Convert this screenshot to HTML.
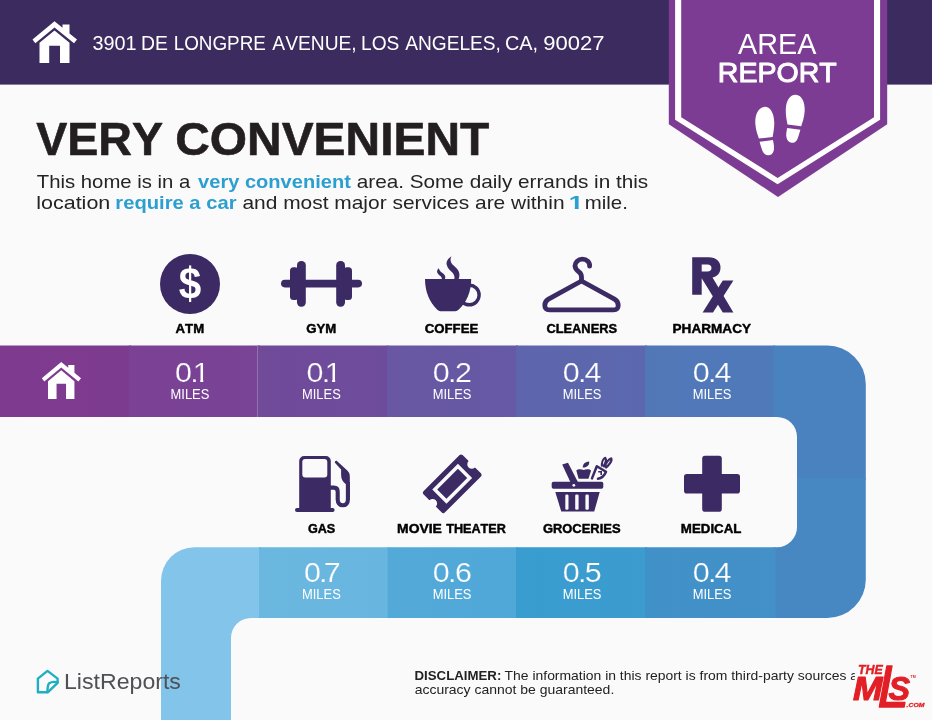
<!DOCTYPE html>
<html lang="en">
<head>
<meta charset="utf-8">
<title>Area Report - 3901 De Longpre Avenue</title>
<style>
html,body{margin:0;padding:0;background:#fafafa;}
body{width:932px;height:720px;overflow:hidden;font-family:"Liberation Sans",sans-serif;}
#page{position:relative;width:932px;height:720px;overflow:hidden;background:#fafafa;}
#page svg{position:absolute;left:0;top:0;display:block;}
text{font-family:"Liberation Sans",sans-serif;font-kerning:none;white-space:pre;}
.ic{fill:#3b2a63;}
</style>
</head>
<body>
<div id="page">
<svg width="932" height="720" viewBox="0 0 932 720">
<defs>
<clipPath id="trk"><path d="M0 345.6H827.3A38.5 38.5 0 0 1 865.8 384.1V579.5A38.5 38.5 0 0 1 827.3 618H251A20 20 0 0 0 231 638V720H161V580.7A33.5 33.5 0 0 1 194.5 547.2H777A20 20 0 0 0 797 527.2V437A20 20 0 0 0 777 417H0Z"/></clipPath>
<g id="home">
<path d="M54.5 21.2 62.5 27.7V24.5H69.5V33.4L77 39.5 74 43.3 54.5 27.5 35.3 43.3 32.5 39.4Z"/>
<path d="M54.5 30.6 69.5 42.8V63H60V45.8H49.2V63H39.5V42.8Z"/>
</g>
</defs>
<g id="header">
<rect x="0" y="0" width="932" height="84.6" fill="#3b2b5e"/>
<use href="#home" fill="#fff"/>
<text fill="#fff"><tspan x="92.54" y="50.25" textLength="44.12" lengthAdjust="spacingAndGlyphs" font-size="20.3">3901</tspan> <tspan x="141.11" y="50.25" textLength="26.92" lengthAdjust="spacingAndGlyphs" font-size="20.3">DE</tspan> <tspan x="173.65" y="50.25" textLength="92.26" lengthAdjust="spacingAndGlyphs" font-size="20.3">LONGPRE</tspan> <tspan x="272.36" y="50.25" textLength="84.36" lengthAdjust="spacingAndGlyphs" font-size="20.3">AVENUE,</tspan> <tspan x="361.03" y="50.25" textLength="38.35" lengthAdjust="spacingAndGlyphs" font-size="20.3">LOS</tspan> <tspan x="405.16" y="50.25" textLength="95.76" lengthAdjust="spacingAndGlyphs" font-size="20.3">ANGELES,</tspan> <tspan x="504.89" y="50.25" textLength="33.20" lengthAdjust="spacingAndGlyphs" font-size="20.3">CA,</tspan> <tspan x="543.27" y="50.25" textLength="61.24" lengthAdjust="spacingAndGlyphs" font-size="20.3">90027</tspan></text>
</g>
<g id="badge">
<path d="M668.8 0H887.2V124.2L778 197 668.8 124.2Z" fill="#7d3c93"/>
<path d="M675.1 0V119.7L777.6 184.3 880.1 119.7V0H874V117.2L777.6 177.9 681.2 117.2V0Z" fill="#fff"/>
<text fill="#fff" stroke-linejoin="round"><tspan x="738.04" y="53.80" textLength="78.41" lengthAdjust="spacingAndGlyphs" font-size="28.6">AREA</tspan> <tspan x="717.86" y="81.60" textLength="118.79" lengthAdjust="spacingAndGlyphs" font-size="28.47" fill="#fff" stroke="#fff" stroke-width="1.0">REPORT</tspan></text>
<g fill="#fff">
<path d="M764.2 106.9c5.6-.5 9.6 5.5 10 14.5.3 6.300-.8 11.300-1.600 15.500l-13.700 1.700c-1.400-3.900-3.300-9.200-3.600-15.300-.4-9 3.300-15.900 8.900-16.400z"/>
<path d="M759.600 141.800 772.900 140.100c.9 4.200 1.600 7.700.8 10.700-.9 3.100-3 4.600-5.500 4.500-2.600 0-4.700-1.700-6-5-1.200-2.800-1.800-5.600-2.600-8.500z"/>
<path d="M795.800 94.800c5.600.3 9.300 6.900 8.900 15.900-.3 6.400-2.200 11.500-3.500 15.600l-13.700-1.900c-.8-4.200-1.900-8.900-1.700-15.200.4-9 4.400-14.700 10-14.400z"/>
<path d="M787.200 127.900 800.400 129.800c-.8 3-1.600 5.700-2.700 8.600-1.300 3.300-3.400 4.600-6 4.400-2.500-.2-4.500-2-5.200-5.200-.600-2.700-.100-5.900.7-9.700z"/>
</g>
</g>
<text id="title" fill="#231f20" stroke="#231f20" stroke-width="0.6" stroke-linejoin="round"><tspan x="36.18" y="154.50" textLength="126.97" lengthAdjust="spacingAndGlyphs" font-size="47.04" font-weight="700">VERY</tspan> <tspan x="175.24" y="154.50" textLength="314.03" lengthAdjust="spacingAndGlyphs" font-size="47.04" font-weight="700">CONVENIENT</tspan></text>
<clipPath id="cb1"><path clip-rule="evenodd" d="M0 160H932V230H0ZM567.79 206.70H574.77V209.80H567.79ZM578.65 206.70H583.50V209.80H578.65Z"/></clipPath>
<g id="intro" clip-path="url(#cb1)"><text fill="#262324"><tspan x="36.84" y="187.85" textLength="153.46" lengthAdjust="spacingAndGlyphs" font-size="18.6">This home is in a</tspan> <tspan x="198.12" y="187.85" textLength="152.72" lengthAdjust="spacingAndGlyphs" font-size="18.6" font-weight="700" fill="#2c9fd1">very convenient</tspan> <tspan x="356.72" y="187.85" textLength="291.53" lengthAdjust="spacingAndGlyphs" font-size="18.6">area. Some daily errands in this</tspan> <tspan x="36.25" y="208.80" textLength="74.04" lengthAdjust="spacingAndGlyphs" font-size="18.6">location</tspan> <tspan x="115.37" y="208.80" textLength="121.14" lengthAdjust="spacingAndGlyphs" font-size="18.6" font-weight="700" fill="#2c9fd1">require a car</tspan> <tspan x="242.41" y="208.80" textLength="322.15" lengthAdjust="spacingAndGlyphs" font-size="18.6">and most major services are within</tspan> <tspan x="568.79" y="208.8" textLength="14.72" lengthAdjust="spacingAndGlyphs" font-size="18.6" font-weight="700" fill="#2c9fd1">1</tspan> <tspan x="584.74" y="208.80" textLength="43.12" lengthAdjust="spacingAndGlyphs" font-size="18.6">mile.</tspan></text></g>
<g id="track" clip-path="url(#trk)">
<linearGradient id="g0" x1="0" x2="1" y1="0" y2="0"><stop offset="0" stop-color="#7e3a8f"/><stop offset="1" stop-color="#7d3b90"/></linearGradient><rect x="0" y="345" width="131" height="73" fill="url(#g0)"/>
<linearGradient id="g1" x1="0" x2="1" y1="0" y2="0"><stop offset="0" stop-color="#7b4195"/><stop offset="1" stop-color="#794396"/></linearGradient><rect x="128.8" y="345" width="131" height="73" fill="url(#g1)"/>
<linearGradient id="g2" x1="0" x2="1" y1="0" y2="0"><stop offset="0" stop-color="#714a9a"/><stop offset="1" stop-color="#6e4c9c"/></linearGradient><rect x="257.6" y="345" width="131" height="73" fill="url(#g2)"/>
<linearGradient id="g3" x1="0" x2="1" y1="0" y2="0"><stop offset="0" stop-color="#6957a3"/><stop offset="1" stop-color="#6659a5"/></linearGradient><rect x="387" y="345" width="131" height="73" fill="url(#g3)"/>
<linearGradient id="g4" x1="0" x2="1" y1="0" y2="0"><stop offset="0" stop-color="#5e65ac"/><stop offset="1" stop-color="#5b68af"/></linearGradient><rect x="516" y="345" width="131" height="73" fill="url(#g4)"/>
<linearGradient id="g5" x1="0" x2="1" y1="0" y2="0"><stop offset="0" stop-color="#5277b7"/><stop offset="1" stop-color="#4f7aba"/></linearGradient><rect x="645" y="345" width="130" height="73" fill="url(#g5)"/>
<rect x="773.3" y="345" width="94" height="135" fill="#4a82bf"/>
<rect x="773.3" y="478.3" width="94" height="141" fill="#4888c2"/>
<rect x="160" y="546" width="101" height="175" fill="#82c4ea"/>
<linearGradient id="g9" x1="0" x2="1" y1="0" y2="0"><stop offset="0" stop-color="#6ab7e0"/><stop offset="1" stop-color="#68b6df"/></linearGradient><rect x="259" y="546" width="130" height="73" fill="url(#g9)"/>
<linearGradient id="g10" x1="0" x2="1" y1="0" y2="0"><stop offset="0" stop-color="#53aad9"/><stop offset="1" stop-color="#50a8d8"/></linearGradient><rect x="387.6" y="546" width="130.4" height="73" fill="url(#g10)"/>
<linearGradient id="g11" x1="0" x2="1" y1="0" y2="0"><stop offset="0" stop-color="#399dd0"/><stop offset="1" stop-color="#3c9bcf"/></linearGradient><rect x="516" y="546" width="131" height="73" fill="url(#g11)"/>
<linearGradient id="g12" x1="0" x2="1" y1="0" y2="0"><stop offset="0" stop-color="#4191c9"/><stop offset="1" stop-color="#4490c8"/></linearGradient><rect x="645" y="546" width="130.3" height="73" fill="url(#g12)"/>
<rect x="257" y="345" width="1" height="73" fill="#fff" fill-opacity="0.22"/>
</g>
<use href="#home" fill="#fff" transform="translate(13.2 343.3) scale(0.881 0.884)"/>
<clipPath id="c1_1"><rect x="174.10" y="356.20" width="21.90" height="30"/><path d="M200.26 383.20H203.25V358.20H194.78V379.93H200.26Z"/></clipPath><g clip-path="url(#c1_1)"><text transform="translate(174.91 382.20) scale(1.1000 1)" x="-0.00 14.01 16.30" font-size="27.7" fill="#fff" stroke="#7a4296" stroke-width="0.22">0.1</text></g>
<text transform="translate(170.54 399.10) scale(0.9249 1.0000)" font-size="14" fill="#fff">MILES</text>
<clipPath id="c1_2"><rect x="305.80" y="356.20" width="21.60" height="30"/><path d="M332.16 383.20H335.15V358.20H326.68V379.93H332.16Z"/></clipPath><g clip-path="url(#c1_2)"><text transform="translate(306.61 382.20) scale(1.1000 1)" x="-0.00 13.73 16.49" font-size="27.7" fill="#fff" stroke="#704b9b" stroke-width="0.22">0.1</text></g>
<text transform="translate(301.94 399.10) scale(0.9249 1.0000)" font-size="14" fill="#fff">MILES</text>
<text transform="translate(432.71 382.20) scale(1.1000 1)" x="-0.00 14.01 20.34" font-size="27.7" fill="#fff" stroke="#6858a4" stroke-width="0.22">0.2</text>
<text transform="translate(432.64 399.10) scale(0.9249 1.0000)" font-size="14" fill="#fff">MILES</text>
<text transform="translate(562.71 382.20) scale(1.1000 1)" x="0.00 14.01 19.76" font-size="27.7" fill="#fff" stroke="#5d66ad" stroke-width="0.22">0.4</text>
<text transform="translate(562.64 399.10) scale(0.9249 1.0000)" font-size="14" fill="#fff">MILES</text>
<text transform="translate(692.71 382.20) scale(1.1000 1)" x="0.00 14.01 19.76" font-size="27.7" fill="#fff" stroke="#5178b8" stroke-width="0.22">0.4</text>
<text transform="translate(692.64 399.10) scale(0.9249 1.0000)" font-size="14" fill="#fff">MILES</text>
<text transform="translate(303.91 582.20) scale(1.1000 1)" x="-0.00 13.64 17.98" font-size="27.7" fill="#fff" stroke="#69b6e0" stroke-width="0.22">0.7</text>
<text transform="translate(301.94 599.10) scale(0.9249 1.0000)" font-size="14" fill="#fff">MILES</text>
<text transform="translate(432.71 582.20) scale(1.1000 1)" x="-0.00 14.01 20.17" font-size="27.7" fill="#fff" stroke="#52a9d8" stroke-width="0.22">0.6</text>
<text transform="translate(432.64 599.10) scale(0.9249 1.0000)" font-size="14" fill="#fff">MILES</text>
<text transform="translate(562.71 582.20) scale(1.1000 1)" x="0.00 14.01 20.11" font-size="27.7" fill="#fff" stroke="#3a9ccf" stroke-width="0.22">0.5</text>
<text transform="translate(562.64 599.10) scale(0.9249 1.0000)" font-size="14" fill="#fff">MILES</text>
<text transform="translate(692.71 582.20) scale(1.1000 1)" x="0.00 14.01 19.76" font-size="27.7" fill="#fff" stroke="#4291c8" stroke-width="0.22">0.4</text>
<text transform="translate(692.64 599.10) scale(0.9249 1.0000)" font-size="14" fill="#fff">MILES</text>
<g id="labels" fill="#000" stroke="#000" stroke-width="0.45" stroke-linejoin="round" font-weight="700">
<text><tspan x="175.60" y="332.88" textLength="28.56" lengthAdjust="spacingAndGlyphs" font-size="13.16" font-weight="700">ATM</tspan></text>
<text><tspan x="306.18" y="332.88" textLength="30.07" lengthAdjust="spacingAndGlyphs" font-size="13.16" font-weight="700">GYM</tspan></text>
<text><tspan x="424.68" y="332.88" textLength="53.61" lengthAdjust="spacingAndGlyphs" font-size="13.16" font-weight="700">COFFEE</tspan></text>
<text><tspan x="546.40" y="332.88" textLength="70.68" lengthAdjust="spacingAndGlyphs" font-size="13.16" font-weight="700">CLEANERS</tspan></text>
<text><tspan x="672.52" y="332.88" textLength="78.48" lengthAdjust="spacingAndGlyphs" font-size="13.16" font-weight="700">PHARMACY</tspan></text>
<text><tspan x="307.91" y="532.88" textLength="27.36" lengthAdjust="spacingAndGlyphs" font-size="13.16" font-weight="700">GAS</tspan></text>
<text><tspan x="397.09" y="532.88" textLength="44.82" lengthAdjust="spacingAndGlyphs" font-size="13.16" font-weight="700">MOVIE</tspan> <tspan x="446.18" y="532.88" textLength="59.75" lengthAdjust="spacingAndGlyphs" font-size="13.16" font-weight="700">THEATER</tspan></text>
<text><tspan x="542.89" y="532.88" textLength="77.69" lengthAdjust="spacingAndGlyphs" font-size="13.16" font-weight="700">GROCERIES</tspan></text>
<text><tspan x="680.84" y="532.88" textLength="60.60" lengthAdjust="spacingAndGlyphs" font-size="13.16" font-weight="700">MEDICAL</tspan></text>
</g>
<g id="icons" class="ic">
<!-- ATM -->
<circle cx="190" cy="284" r="30"/>
<text transform="translate(178.77 298.72) scale(0.4047 0.4422)" font-size="100.0" fill="#fff" font-weight="700">$</text>

<!-- GYM -->
<g>
<rect x="281" y="279.800" width="81" height="7.600" rx="3.800"/>
<rect x="290" y="267.200" width="8.500" height="32.800" rx="3.500"/>
<rect x="297" y="261" width="8.800" height="45.800" rx="4.200"/>
<rect x="336.200" y="261" width="8.800" height="45.800" rx="4.200"/>
<rect x="343.500" y="267.200" width="8.500" height="32.800" rx="3.500"/>
</g>
<!-- COFFEE -->
<g>
<path d="M425 279H471.200C471.200 291.500 466.800 302.500 458.500 309.700 457 310.900 455.800 311.300 454 311.300H441.800C440 311.300 438.800 310.900 437.300 309.700 429.400 302.500 425 291.500 425 279Z"/>
<circle cx="469.300" cy="295" r="9.800" fill="none" stroke="#3b2a63" stroke-width="3.400"/>
<path d="M451.600 256.200C447.500 258.500 446 262 446.800 265 447.600 268.500 450.500 270.500 452.800 273 454.300 274.800 454.800 277 454.300 279.300H458.600C460.200 275.500 459.600 271.800 457 268.800 454.500 266 451 264 450.600 260.500 450.400 258.800 450.800 257.500 451.600 256.200Z"/>
<path d="M438.800 268.300C436.800 270 436.600 272 437.800 273.600 439 275.300 441 276.200 441.600 277.800 441.800 278.300 441.900 278.800 441.800 279.300H444.900C445.800 277.200 445.200 275.200 443.500 273.800 441.800 272.300 439.500 271.500 438.800 268.300Z"/>
</g>
<!-- CLEANERS -->
<g fill="none" stroke="#3b2a63" stroke-width="4.800" stroke-linecap="round" stroke-linejoin="round">
<path d="M589.600 266.200C590 262.400 586.800 259.200 582.300 259.200 578.200 259.200 575 262.200 575 265.800 575 268.800 577 270.600 579.300 272.200 581 273.400 581.500 275.200 581.500 277.200V281"/>
<path d="M581.500 281 548.500 299.200C544.200 301.500 542.600 309.900 549.500 309.900H613.500C620.400 309.900 618.800 301.500 614.500 299.200Z"/>
</g>
<!-- PHARMACY -->
<g>
<path d="M692.200 257.200H708.500C716.500 257.200 720.500 261.500 720.500 267.500 720.500 273 717.500 276.500 712.500 277.600L733.400 312.400H722.800L701.700 278.200V294.700H692.200ZM701.700 264.500V271.500H707.500C710 271.500 711.500 270 711.500 268 711.500 266 710 264.500 707.500 264.500Z" fill-rule="evenodd"/>
<path d="M722.800 280.400H733.400L713 312.400H702.600Z"/>
</g>
<!-- GAS -->
<g>
<path d="M299.200 508.300V461.100A5 5 0 0 1 304.200 456.100H325.800A5 5 0 0 1 330.800 461.100V508.300ZM302.300 462A3 3 0 0 1 305.300 459H324.300A3 3 0 0 1 327.300 462V474.600A3 3 0 0 1 324.300 477.600H305.300A3 3 0 0 1 302.300 474.600Z" fill-rule="evenodd"/>
<rect x="295" y="508" width="39.600" height="4" rx="2"/>
<path d="M330 487.600H333.800C336.500 487.600 337.700 489.200 337.700 491.800V499.500C337.700 503.200 339.800 505.300 342.900 505.300 345.800 505.300 347.900 503.200 347.900 499.500V482" fill="none" stroke="#3b2a63" stroke-width="4.100"/>
<path d="M334.900 462.800C334.500 461.200 336.100 460.300 337.200 461.200L347.300 470.600C349.200 472.500 349.800 474.200 349.800 476.700V499.500H346V484.200C343.100 482.200 341.100 479.200 341.100 475V469.500Z"/>
</g>
<!-- MOVIE THEATER -->
<g transform="translate(452.200 483.800) rotate(-45)">
<path d="M-27.700 -12.600A2.500 2.500 0 0 1 -25.200 -15.100H25.200A2.500 2.500 0 0 1 27.700 -12.600V-4.500A4.500 4.500 0 0 0 27.700 4.500V12.600A2.500 2.500 0 0 1 25.200 15.100H-25.200A2.500 2.500 0 0 1 -27.700 12.600V4.500A4.500 4.500 0 0 0 -27.700 -4.500Z"/>
<rect x="-16.400" y="-8.300" width="32.800" height="16.600" fill="none" stroke="#fafafa" stroke-width="3.500"/>
</g>
<!-- GROCERIES -->
<g>
<rect x="551.700" y="481.800" width="51.600" height="6.900" rx="1.800"/>
<path d="M555.300 492H599.700L594.200 511.600H561.300Z"/>
<g fill="#fafafa">
<rect x="565.300" y="494.500" width="3.200" height="15.200" rx="1.300"/>
<rect x="575.200" y="494.500" width="3.400" height="15.200" rx="1.300"/>
<rect x="585.400" y="494.500" width="3.400" height="15.200" rx="1.300"/>
</g>
<path d="M562.200 464.600 568 462.700 578.400 483H570.800Z"/>
<circle cx="573.800" cy="485.300" r="1.400" fill="#fafafa"/>
<path d="M576.300 470.400C577.800 468.900 581.500 468.900 583.700 470.100 585.900 468.900 589.600 468.900 591.100 470.400L588.500 478.700H578.600Z"/>
<path d="M582.700 467.400C582.700 463.600 585.700 461.500 589.200 461.400 589.600 465.200 586.800 467.700 582.700 467.400Z"/>
<path d="M592 478.400 596.800 466.200 606 471.800C604.500 475.500 601.500 478.300 598 478.800" fill="none" stroke="#3b2a63" stroke-width="2.500" stroke-linejoin="round" stroke-linecap="round"/>
<path d="M598.200 471.800H601.200V475" fill="none" stroke="#3b2a63" stroke-width="1.600"/>
<path d="M602 466.500C601.500 462.500 603 458.800 605.300 457.800 606.800 460 605.500 464 602.800 466.800M604.500 467.500C605.500 463.500 608.500 458.800 611.300 458.300 612.300 460.800 609 465.500 605.300 468" fill="none" stroke="#3b2a63" stroke-width="2.200" stroke-linejoin="round"/>
</g>
<!-- MEDICAL -->
<path d="M705 455.800H719A2.800 2.800 0 0 1 721.800 458.600V473.900H737.200A2.800 2.800 0 0 1 740 476.700V490.800A2.800 2.800 0 0 1 737.200 493.600H721.800V508.900A2.800 2.800 0 0 1 719 511.700H705A2.800 2.800 0 0 1 702.200 508.900V493.600H686.800A2.800 2.800 0 0 1 684 490.800V476.700A2.800 2.800 0 0 1 686.800 473.900H702.200V458.600A2.800 2.800 0 0 1 705 455.800Z"/>
</g>
<g id="footer">
<g fill="none" stroke="#20afc2" stroke-width="2.400" stroke-linejoin="round" stroke-linecap="round">
<path d="M47.500 670.900 57.600 678.600V682.800L48 692.200H37.900V678.600Z"/>
<path d="M57.500 682.300C54 681.500 51 682 49.200 683.200 47.500 684.500 47.800 688 47.300 692"/>
</g>
<text transform="translate(64.00 688.60) scale(1.0864 1.0000)" font-size="21.3" fill="#505154">ListReports</text>
<text fill="#222"><tspan x="414.51" y="680.00" textLength="86.86" lengthAdjust="spacingAndGlyphs" font-size="12.9" font-weight="700">DISCLAIMER:</tspan> <tspan x="504.59" y="680.00" textLength="341.92" lengthAdjust="spacingAndGlyphs" font-size="12.9">The information in this report is from third-party sources</tspan> <tspan x="850.34" y="680.00" textLength="39.14" lengthAdjust="spacingAndGlyphs" font-size="12.9">and its</tspan> <tspan x="414.71" y="694.40" textLength="199.57" lengthAdjust="spacingAndGlyphs" font-size="12.9">accuracy cannot be guaranteed.</tspan></text>
<rect x="854.800" y="660" width="77.200" height="54" fill="#fafafa"/>
<g id="mls">
<text fill="#e21f26" stroke-linejoin="round"><tspan x="857.92" y="673.80" textLength="24.87" lengthAdjust="spacingAndGlyphs" font-size="12.23" font-weight="700" font-style="italic" fill="#e21f26" stroke="#e21f26" stroke-width="0.4">THE</tspan> <tspan x="852.93" y="700.05" textLength="29.50" lengthAdjust="spacingAndGlyphs" font-size="33.23" font-weight="700" font-style="italic" fill="#e21f26" stroke="#e21f26" stroke-width="1.1">M</tspan><tspan x="877.51" y="706.65" textLength="31.50" lengthAdjust="spacingAndGlyphs" font-size="59.34" font-style="italic" fill="#e21f26" stroke="#e21f26" stroke-width="1.3">L</tspan><tspan x="888.51" y="700.00" textLength="21.52" lengthAdjust="spacingAndGlyphs" font-size="32.97" font-weight="700" font-style="italic" fill="#e21f26" stroke="#e21f26" stroke-width="1.0">S</tspan><tspan x="910.5" y="678.2" font-size="3.6" font-weight="700">TM</tspan><tspan x="906.60" y="707.45" textLength="17.73" lengthAdjust="spacingAndGlyphs" font-size="5.77" font-weight="700" font-style="italic" fill="#e21f26" stroke="#e21f26" stroke-width="0.3">.COM</tspan></text>
</g>
</g>
</svg>
</div>
</body>
</html>
